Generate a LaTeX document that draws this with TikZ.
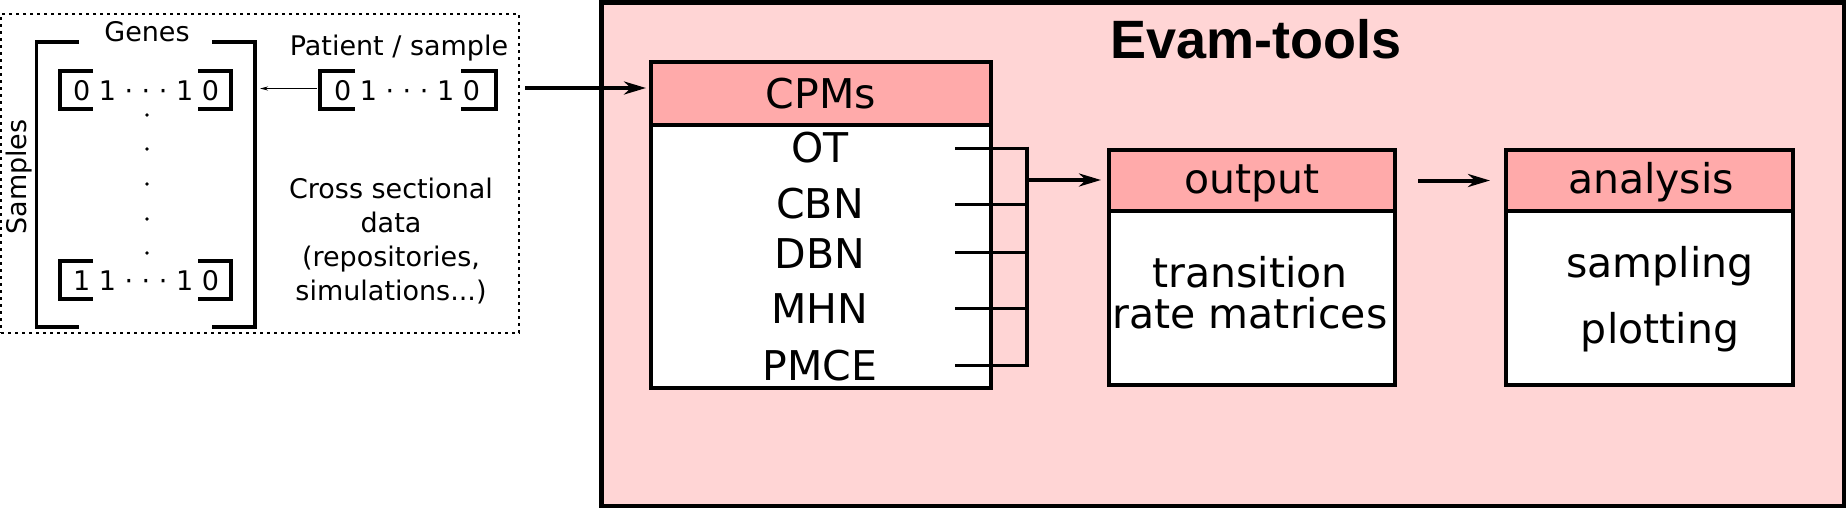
\documentclass[tikz,border=0pt]{standalone}
\usepackage{fontspec}
\setmainfont{DejaVu Sans}
\newfontfamily\titlefont{Liberation Sans}
\usetikzlibrary{arrows.meta}
\definecolor{bgpink}{HTML}{FFD5D5}
\definecolor{hdrpink}{HTML}{FFAAAA}
\begin{document}
\begin{tikzpicture}[x=1pt,y=-1pt,
  every node/.style={inner sep=0pt, outer sep=0pt},
  smalltxt/.style={font=\fontsize{27pt}{34pt}\selectfont},
  bigtxt/.style={font=\fontsize{41pt}{49pt}\selectfont},
  titletxt/.style={font=\titlefont\bfseries\fontsize{54pt}{60pt}\selectfont},
  bodybox/.style={draw=black, line width=4pt, fill=white, rectangle},
  hdrbox/.style={draw=black, line width=4pt, fill=hdrpink, rectangle},
  brk/.style={draw=black, line width=3.4pt, line cap=butt, line join=miter},
  conn/.style={draw=black, line width=3pt},
  bus/.style={draw=black, line width=4.5pt},
  bigarrow/.style={draw=black, line width=4pt, -{Stealth[length=22pt,width=13pt,inset=7pt]}},
  thinarrow/.style={draw=black, line width=1.3pt, -{Stealth[length=8pt,width=4pt]}},
  vdot/.style={fill=black, draw=none}
]
\useasboundingbox (0,0) rectangle (1848,509);

% ---------- left data panel ----------
\node[draw=black, line width=2pt, dash pattern=on 3pt off 4pt, rectangle,
      minimum width=518pt, minimum height=319pt] (data) at (260,173.5) {};
\node[rectangle, minimum width=219pt, minimum height=285pt] (mat) at (145.5,184.5) {};

% big matrix brackets
\draw[brk] (79,42) -- (36.5,42) -- (36.5,327) -- (79,327);
\draw[brk] (212,42) -- (255,42) -- (255,327) -- (212,327);

\node[smalltxt, anchor=base] (genes) at (147,41) {Genes};
\node[smalltxt, anchor=base, rotate=90] (samples) at (27,177) {Samples};

% row 1
\draw[brk] (93,71) -- (60,71) -- (60,109) -- (93,109);
\draw[brk] (198,71) -- (231,71) -- (231,109) -- (198,109);
\node[smalltxt, anchor=base] (r1) at (146,100) {0 1 · · · 1 0};
% row 2
\draw[brk] (93,261) -- (60,261) -- (60,299) -- (93,299);
\draw[brk] (198,261) -- (231,261) -- (231,299) -- (198,299);
\node[smalltxt, anchor=base] (r2) at (146,290) {1 1 · · · 1 0};
% vertical dots
\foreach \yy in {115,149,184,219,253} \fill[vdot] (147,\yy) circle (1.8pt);

% patient row
\node[smalltxt, anchor=base] (pat) at (399,55) {Patient / sample};
\draw[brk] (355,71) -- (320,71) -- (320,109) -- (355,109);
\draw[brk] (461,71) -- (496,71) -- (496,109) -- (461,109);
\node[smalltxt, anchor=base] (prow) at (407,100) {0 1 · · · 1 0};
\coordinate (pL) at (317,88.5);
\draw[thinarrow, shorten >=5pt] (pL) -- (mat.east |- pL);

\node[smalltxt, anchor=base, align=center] (cs) at (391,300)
  {Cross sectional\\data\\(repositories,\\simulations...)};

% ---------- Evam-tools panel ----------
\node[draw=black, fill=bgpink, line width=4.5pt, rectangle,
      minimum width=1242.5pt, minimum height=503.5pt] (evam) at (1222.75,254.25) {};
\node[titletxt, anchor=base west] (title) at (1110,58) {Evam-tools};

% CPMs box
\node[bodybox, minimum width=340pt, minimum height=263pt] (cpmB) at (821,256.5) {};
\node[hdrbox, minimum width=340pt, minimum height=63pt] (cpmH) at (821,93.5) {};
\node[bigtxt, anchor=base] (cpmT) at (821,108) {CPMs};
\node[bigtxt, anchor=base] (ot) at (820,162) {OT};
\node[bigtxt, anchor=base] (cbn) at (820,218) {CBN};
\node[bigtxt, anchor=base] (dbn) at (820,268) {DBN};
\node[bigtxt, anchor=base] (mhn) at (820,323) {MHN};
\node[bigtxt, anchor=base] (pmce) at (820,380) {PMCE};

% output box
\node[bodybox, minimum width=286pt, minimum height=174pt] (outB) at (1252,298) {};
\node[hdrbox, minimum width=286pt, minimum height=61pt] (outH) at (1252,180.5) {};
\node[bigtxt, anchor=base] (outT) at (1252,193) {output};
\node[bigtxt, anchor=base] (tr1) at (1250,287) {transition};
\node[bigtxt, anchor=base] (tr2) at (1250,328) {rate matrices};

% analysis box
\node[bodybox, minimum width=287pt, minimum height=174pt] (anB) at (1649.5,298) {};
\node[hdrbox, minimum width=287pt, minimum height=61pt] (anH) at (1649.5,180.5) {};
\node[bigtxt, anchor=base] (anT) at (1651,193) {analysis};
\node[bigtxt, anchor=base] (samp) at (1660,277) {sampling};
\node[bigtxt, anchor=base] (plot) at (1660,343) {plotting};

% connectors
\coordinate (inA) at (525,88);
\draw[bigarrow, shorten >=5pt] (inA) -- (cpmH.west |- inA);

\coordinate (c1) at (955,148);  \coordinate (b1) at (1027,148);
\coordinate (c2) at (955,204);  \coordinate (b2) at (1027,204);
\coordinate (c3) at (955,252);  \coordinate (b3) at (1027,252);
\coordinate (c4) at (955,308);  \coordinate (b4) at (1027,308);
\coordinate (c5) at (955,365);  \coordinate (b5) at (1027,365);
\coordinate (bo) at (1027,180);
\foreach \i in {1,...,5} \draw[conn] (c\i) -- (b\i);
\draw[bus] ([yshift=1.5pt]b1) -- ([yshift=-1.5pt]b5);
\draw[bigarrow, shorten >=8pt] (bo) -- (outH.west |- bo);
\draw[bigarrow, shorten <=23pt, shorten >=16pt] (outH.east) -- (anH.west);
\end{tikzpicture}
\end{document}
